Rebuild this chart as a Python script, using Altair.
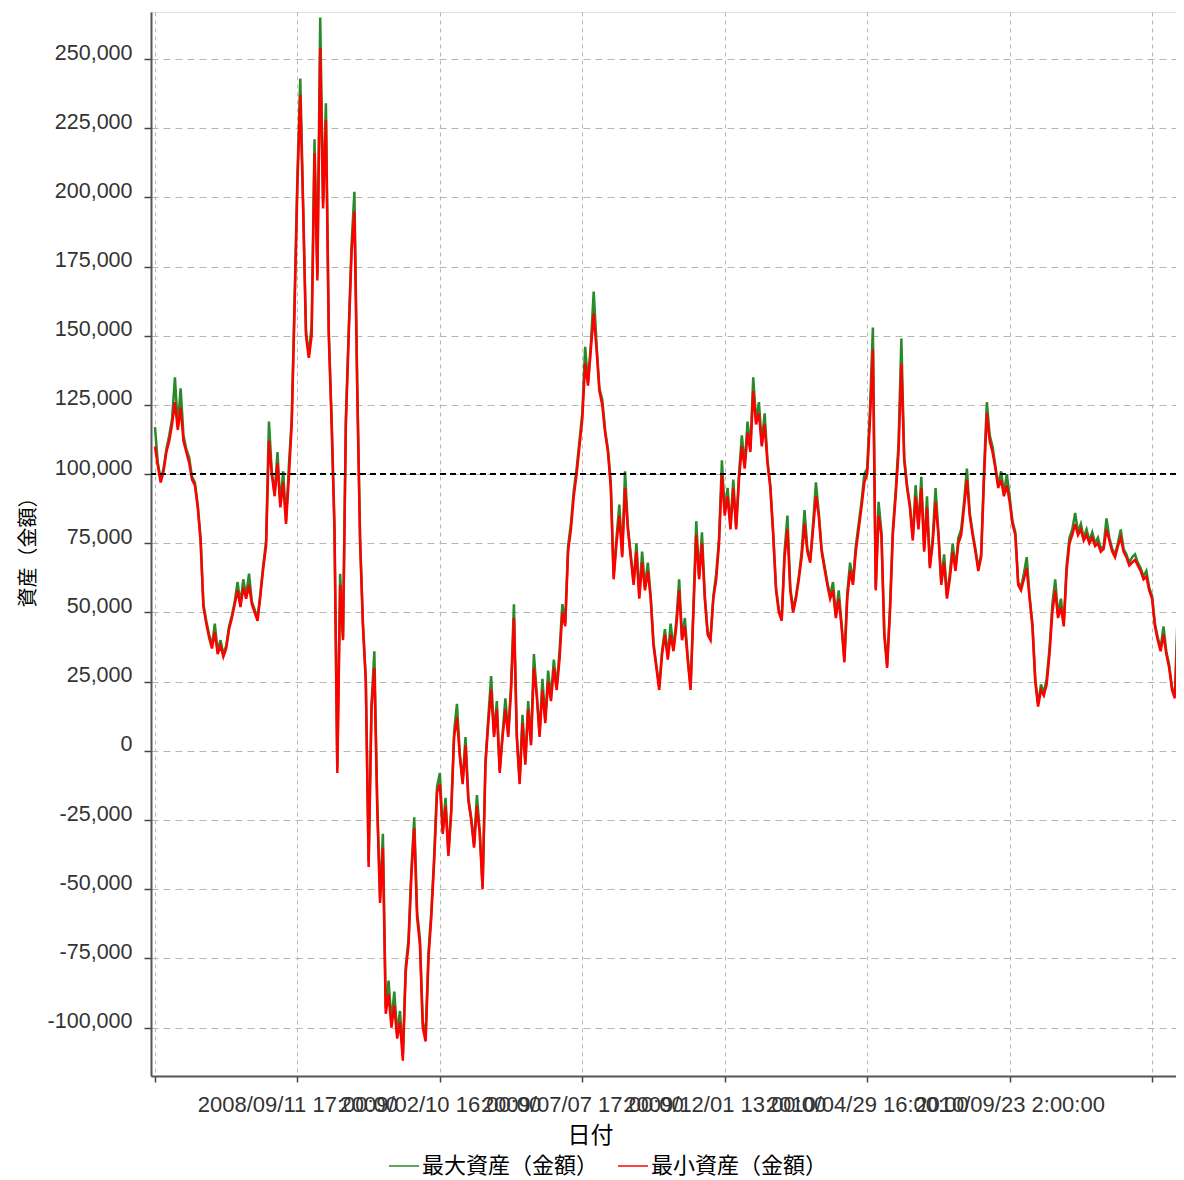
import altair as alt
import pandas as pd

# x tick positions (bar index) and their labels
tick_pos = [0, 50, 100, 150, 200, 250, 300, 350]
tick_text = ["", "2008/09/11 17:00:00", "2009/02/10 16:00:00", "2009/07/07 17:00:00",
             "2009/12/01 13:00:00", "2010/04/29 16:00:00", "2010/09/23 2:00:00", ""]

# y ticks
y_ticks = [-100000, -75000, -50000, -25000, 0, 25000, 50000, 75000, 100000,
           125000, 150000, 175000, 200000, 225000, 250000]

label_hi = "最大資産（金額）"
label_lo = "最小資産（金額）"

# 最小資産 (thousands of yen)
lo = [110, 103, 97, 101, 108, 112, 118, 126, 116, 124,
      112, 108, 104, 98, 96, 88, 76, 52, 46, 41,
      37, 43, 35, 38, 34, 37, 44, 48, 53, 58,
      52, 59, 55, 60, 53, 50, 47, 56, 66, 74,
      112, 100, 92, 104, 88, 97, 82, 99, 118, 160,
      205, 237, 196, 150, 142, 150, 216, 170, 254, 196,
      228, 150, 118, 80, -8, 60, 40, 118, 150, 180,
      195, 130, 75, 45, 25, -42, 15, 30, -20, -55,
      -35, -95, -88, -100, -92, -104, -98, -112, -80, -70,
      -45, -28, -60, -70, -100, -105, -75, -60, -40, -15,
      -12, -30, -20, -38, -22, 5, 12, -2, -12, 2,
      -18, -25, -35, -20, -30, -50, -5, 10, 22, 5,
      15, -8, 5, 15, 5, 22, 48, 5, -12, 10,
      -5, 15, 2, 30, 20, 5, 22, 10, 25, 18,
      30, 22, 33, 50, 45, 72, 80, 92, 100, 110,
      120, 140, 132, 145, 158, 145, 130, 125, 115, 108,
      95, 62, 75, 85, 70, 95, 80, 70, 60, 72,
      55, 68, 58, 65, 55, 38, 30, 22, 35, 42,
      33, 42, 36, 45, 58, 40, 45, 33, 22, 50,
      78, 62, 75, 55, 42, 40, 55, 62, 75, 100,
      85, 92, 80, 95, 80, 98, 110, 102, 115, 108,
      130, 118, 122, 110, 118, 104, 95, 78, 58, 50,
      47, 70, 80, 58, 50, 55, 62, 70, 82, 72,
      68, 80, 92, 85, 72, 66, 60, 55, 58, 48,
      55, 45, 32, 55, 65, 60, 72, 80, 88, 97,
      100, 120, 145, 58, 85, 78, 42, 30, 50, 78,
      92, 108, 140, 105, 95, 88, 76, 92, 80, 95,
      72, 88, 66, 75, 90, 78, 60, 68, 55, 62,
      72, 65, 75, 78, 88, 98, 85, 78, 72, 65,
      70, 98, 122, 112, 108, 102, 95, 98, 92, 96,
      90, 82, 78, 60, 58, 62, 66, 55, 45, 25,
      16, 22, 20, 24, 35, 50, 58, 48, 52, 45,
      65, 75, 78, 82, 78, 80, 76, 78, 75, 77,
      74, 75, 72, 73, 80, 76, 72, 70, 74, 77,
      72, 70, 67, 68, 69, 67, 65, 62, 63, 58,
      55, 45, 40, 36, 42, 35, 30, 22, 19, 45,
      75, 78]

# 最大資産 (thousands of yen)
hi = [117, 104, 98, 102, 109, 114, 120, 135, 117, 131,
      114, 109, 106, 99, 97, 89, 77, 53, 47, 42,
      38, 46, 36, 40, 35, 38, 45, 49, 54, 61,
      53, 62, 56, 64, 54, 51, 48, 57, 67, 76,
      119, 101, 93, 108, 89, 101, 83, 103, 120, 163,
      208, 243, 198, 152, 143, 154, 221, 172, 265, 198,
      234, 152, 120, 82, -6, 64, 41, 120, 152, 183,
      202, 132, 77, 46, 26, -40, 17, 36, -18, -53,
      -30, -93, -83, -98, -87, -102, -94, -110, -78, -68,
      -43, -24, -58, -68, -98, -103, -73, -58, -38, -13,
      -8, -29, -17, -37, -21, 7, 17, -1, -11, 5,
      -17, -24, -34, -16, -29, -49, -4, 12, 27, 6,
      18, -7, 6, 19, 6, 24, 53, 6, -11, 13,
      -4, 18, 3, 35, 21, 6, 26, 11, 29, 19,
      33, 23, 36, 53, 46, 74, 82, 94, 102, 112,
      122, 146, 133, 147, 166, 147, 131, 127, 116, 109,
      97, 63, 77, 89, 71, 101, 81, 71, 61, 75,
      56, 72, 59, 68, 56, 39, 31, 23, 36, 44,
      34, 46, 37, 47, 62, 41, 48, 34, 23, 52,
      83, 63, 79, 56, 43, 41, 56, 64, 77, 105,
      86, 95, 81, 98, 81, 100, 114, 103, 119, 109,
      135, 119, 126, 111, 122, 105, 96, 79, 59, 51,
      48, 72, 85, 59, 51, 56, 63, 72, 87, 73,
      69, 82, 97, 86, 73, 67, 61, 56, 61, 49,
      58, 46, 33, 57, 68, 61, 74, 82, 90, 100,
      102, 124, 153, 59, 90, 79, 43, 31, 52, 80,
      94, 111, 149, 106, 96, 89, 77, 96, 81, 99,
      73, 92, 67, 77, 95, 79, 61, 71, 56, 64,
      75, 66, 77, 80, 90, 102, 86, 79, 73, 66,
      71, 101, 126, 114, 110, 103, 96, 101, 93, 100,
      92, 83, 79, 61, 59, 64, 70, 56, 46, 26,
      17, 24, 21, 26, 37, 53, 62, 49, 55, 46,
      67, 77, 80, 86, 79, 82, 77, 80, 76, 79,
      75, 77, 73, 74, 84, 77, 73, 71, 75, 80,
      73, 71, 68, 70, 71, 68, 66, 63, 65, 59,
      56, 46, 41, 37, 45, 36, 31, 23, 20, 50,
      80, 82]

baseline_value = 100000

n = len(lo)
df_hi = pd.DataFrame({"i": list(range(n)), "v": [v * 1000 for v in hi], "s": [label_hi] * n})
df_lo = pd.DataFrame({"i": list(range(n)), "v": [v * 1000 for v in lo], "s": [label_lo] * n})

label_expr = "".join(
    f"datum.value == {p} ? '{t}' : " for p, t in zip(tick_pos, tick_text)
) + "''"

GRID = "#b8b8a8"
TXT = "#333333"

x_enc = alt.X(
    "i:Q",
    scale=alt.Scale(domain=[-1.4, 358.4], nice=False, zero=False),
    axis=alt.Axis(
        values=tick_pos, labelExpr=label_expr, labelOverlap=False, labelBound=False,
        labelFlush=False, labelLimit=0, labelFont="Liberation Sans", labelFontSize=22,
        labelColor=TXT, labelPadding=12, labelBaseline="top", tickSize=6,
        tickColor="#444444", tickWidth=1.5, domainColor="#555555", domainWidth=2,
        grid=True, gridColor=GRID, gridDash=[4, 4], gridWidth=1,
        title="日付", titleFont="Noto Sans CJK JP", titleFontSize=23,
        titleFontWeight="normal", titleColor="black", titleX=439, titleY=59,
        titleBaseline="middle", titleAnchor="start", titleAlign="center",
    ),
)

y_enc = alt.Y(
    "v:Q",
    scale=alt.Scale(domain=[-117500, 267000], nice=False, zero=False),
    axis=alt.Axis(
        values=y_ticks, labelExpr="replace(format(datum.value, ','), '\u2212', '-')",
        labelFont="Liberation Sans", labelFontSize=21.5, labelColor=TXT,
        labelPadding=12, labelBaseline="alphabetic", labelOverlap=False, labelBound=False,
        labelFlush=False, labelLimit=0, tickSize=7, tickColor="#444444", tickWidth=1.5,
        domainColor="#555555", domainWidth=2, grid=True, gridColor=GRID,
        gridDash=[7, 5], gridWidth=1, title="資産（金額）", titleFont="Noto Sans CJK JP",
        titleFontSize=20, titleFontWeight="normal", titleColor="black",
        titleAngle=270, titleX=-123, titleY=535, titleBaseline="middle",
        titleAlign="center", titleAnchor="start",
    ),
)

color_enc = alt.Color(
    "s:N",
    scale=alt.Scale(domain=[label_hi, label_lo], range=["#2a8a2a", "#ff0000"]),
    legend=alt.Legend(
        orient="none", legendX=237, legendY=1138, direction="horizontal",
        symbolType="stroke", symbolSize=900, symbolStrokeWidth=1.5,
        labelFont="Noto Sans CJK JP", labelFontSize=22, labelColor="black",
        labelOffset=2, labelLimit=0, columnPadding=16, padding=0, title=None,
    ),
)

line_hi = alt.Chart(df_hi).mark_line(strokeWidth=2.5, clip=True).encode(
    x=x_enc, y=y_enc, color=color_enc
)
line_lo = alt.Chart(df_lo).mark_line(strokeWidth=2.5, clip=True).encode(
    x=x_enc, y=y_enc, color=color_enc
)

base_rule = alt.Chart(df_hi).mark_rule(color="black", strokeDash=[6, 4], strokeWidth=1.3).encode(
    y=alt.datum(baseline_value)
)

chart = alt.layer(line_hi, line_lo, base_rule).properties(
    width=1025,
    height=1064,
    autosize=alt.AutoSizeParams(type="none"),
    padding={"left": 143, "top": 4, "right": 0, "bottom": 106},
).configure_view(stroke=None).configure(background="white")

chart.save("out.html", embed_options={"renderer": "svg", "actions": False})
